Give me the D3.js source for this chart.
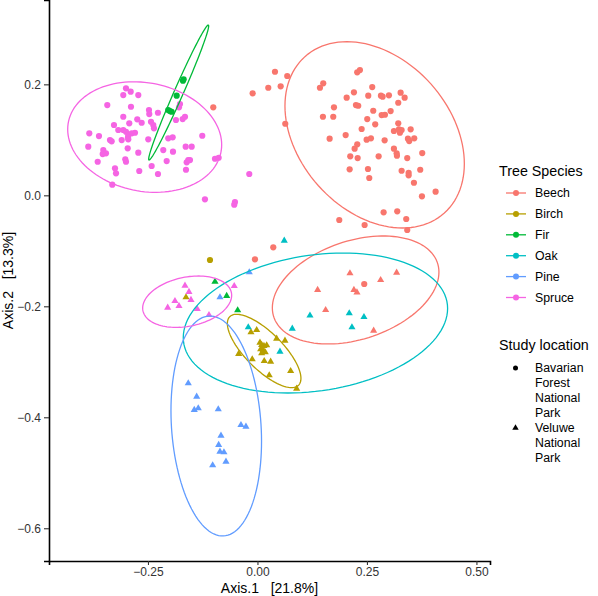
<!DOCTYPE html>
<html>
<head>
<meta charset="utf-8">
<script src="https://cdn.jsdelivr.net/npm/d3@7"></script>
<style>
  html, body { margin: 0; padding: 0; background: #fff; }
  svg { display: block; font-family: "Liberation Sans", Arial, Helvetica, sans-serif; }
</style>
</head>
<body>
<svg id="chart" width="598" height="596"></svg>
<script>
// ---------------- DATA ----------------
const speciesNames  = ["Beech", "Birch", "Fir", "Oak", "Pine", "Spruce"];
const speciesColors = ["#F8766D", "#B79F00", "#00BA38", "#00BFC4", "#619CFF", "#F564E3"];
const locationNames = [["Bavarian", "Forest", "National", "Park"], ["Veluwe", "National", "Park"]];

const xTicks = [-0.25, 0, 0.25, 0.5];
const xTickLabels = ["\u22120.25", "0.00", "0.25", "0.50"];
const yTicks = [-0.6, -0.4, -0.2, 0.0, 0.2];
const yTickLabels = ["\u22120.6", "\u22120.4", "\u22120.2", "0.0", "0.2"];
const xTitle = "Axis.1   [21.8%]";
const yTitle = "Axis.2   [13.3%]";

// Bavarian Forest National Park (circles)
const beechBavarian = [
  [0.0400,0.2227],[0.0680,0.2150],[-0.0110,0.1838],[0.0247,0.1939],[0.0530,0.1964],
  [0.2278,0.2216],[0.2340,0.2258],[0.1427,0.1939],[0.1502,0.2018],[0.2037,0.1759],
  [0.2203,0.1856],[0.2249,0.1627],[0.2301,0.1614],[0.2530,0.1795],[0.2621,0.1951],
  [0.2820,0.1795],[0.2858,0.1777],[0.3002,0.1802],[0.3269,0.1849],[0.3361,0.1759],
  [0.3215,0.1668],[0.1747,0.1586],[0.1731,0.1416],[0.1495,0.1416],[0.2644,0.1524],
  [0.2836,0.1447],[0.2911,0.1452],[0.3041,0.1519],[0.2507,0.1375],[0.2689,0.1279],
  [0.2379,0.1195],[0.3215,0.1297],[0.3116,0.1159],[0.3231,0.1189],[0.3292,0.1177],
  [0.3253,0.1128],[0.3498,0.1189],[0.1648,0.1020],[0.2014,0.1086],[0.2493,0.1002],
  [0.2591,0.1027],[0.2904,0.0991],[0.3436,0.1020],[0.3466,0.0978],[0.3580,0.1027],
  [0.2279,0.0919],[0.2219,0.0840],[0.2119,0.0703],[0.2288,0.0672],[0.2767,0.0703],
  [0.3116,0.0840],[0.3178,0.0757],[0.3185,0.0714],[0.3420,0.0672],[0.3763,0.0762],
  [0.2105,0.0468],[0.2523,0.0474],[0.2553,0.0312],[0.3292,0.0443],[0.3452,0.0407],
  [0.3452,0.0360],[0.3717,0.0461],[0.3573,0.0227],[0.3756,-0.0018],[0.4068,0.0065],
  [0.2881,-0.0306],[0.3192,-0.0288],[0.3397,-0.0427],[0.1868,-0.0445],[0.2447,-0.0535],
  [0.3420,-0.0625],[0.0635,0.1290],[-0.1009,0.1586],[0.0361,-0.0937],[-0.0057,-0.1153],
  [0.2438,-0.1598]
];
const birchBavarian = [[-0.1084,-0.1166]];
const firBavarian = [
  [-0.1685,0.2090],[-0.1701,0.2065],[-0.1845,0.1795],[-0.2037,0.1537],[-0.1959,0.1506],[-0.1998,0.1519]
];
const spruceBavarian = [
  [-0.3002,0.1928],[-0.3064,0.1807],[-0.2895,0.1867],[-0.2721,0.1807],[-0.3429,0.1627],
  [-0.2888,0.1596],[-0.2477,0.1537],[-0.2470,0.1465],[-0.2272,0.1488],[-0.3064,0.1416],
  [-0.2744,0.1369],[-0.2644,0.1308],[-0.2431,0.1326],[-0.2379,0.1267],[-0.2363,0.1207],
  [-0.3276,0.1267],[-0.3178,0.1177],[-0.2927,0.1297],[-0.3064,0.1177],[-0.3002,0.1146],
  [-0.2950,0.1086],[-0.2872,0.1117],[-0.2797,0.1128],[-0.2956,0.1045],[-0.2950,0.1009],
  [-0.3100,0.0996],[-0.3367,0.0996],[-0.3329,0.0973],[-0.3840,0.1117],[-0.3619,0.1068],
  [-0.3863,0.0876],[-0.3520,0.0816],[-0.3459,0.0757],[-0.3534,0.0744],[-0.3648,0.0605],
  [-0.3253,0.0486],[-0.3230,0.0396],[-0.3315,0.0191],[-0.2963,0.0847],[-0.2721,0.0768],
  [-0.3018,0.0649],[-0.3002,0.0605],[-0.2699,0.0438],[-0.2493,0.1009],[-0.2416,0.0528],
  [-0.2272,0.0384],[-0.2151,0.0816],[-0.2073,0.0618],[-0.1929,0.0786],[-0.2037,0.1027],
  [-0.1936,0.1045],[-0.1861,0.1357],[-0.1708,0.1375],[-0.1655,0.1416],[-0.1792,0.1586],
  [-0.1769,0.1645],[-0.1639,0.0876],[-0.1502,0.0876],[-0.1616,0.0595],[-0.1580,0.0636],
  [-0.1541,0.0636],[-0.1632,0.0461],[-0.1260,0.1074],[-0.0970,0.0659],[-0.0886,0.0677],
  [-0.0187,0.0384],[-0.1199,-0.0072],[-0.0514,-0.0121],[-0.0530,-0.0169]
];

// Veluwe National Park (triangles)
const beechVeluwe = [
  [0.2112,-0.1405],[0.3178,-0.1395],[0.2813,-0.1526],[0.1374,-0.1706],[0.2203,-0.1706],
  [0.2272,-0.1748],[0.1557,-0.2067],[0.2653,-0.2440]
];
const birchVeluwe = [
  [-0.1632,-0.1838],[-0.0018,-0.2427],[-0.0148,-0.2468],[0.0438,-0.2584],[0.0628,-0.2620],
  [0.0057,-0.2656],[0.0096,-0.2697],[0.0148,-0.2715],[0.0210,-0.2703],[0.0073,-0.2775],
  [0.0132,-0.2787],[0.0178,-0.2829],[0.0096,-0.2847],[-0.0429,-0.2859],[-0.0119,-0.2955],
  [0.0155,-0.2986],[0.0301,-0.2998],[0.0269,-0.3243],[0.0758,-0.3166],[0.0895,-0.3485]
];
const firVeluwe = [[-0.0970,-0.1557],[-0.0703,-0.1814],[-0.0452,-0.2072]];
const oakVeluwe = [
  [0.0612,-0.0818],[-0.0210,-0.2378],[0.0795,-0.2404],[0.0514,-0.2818],[0.1199,-0.2166],
  [0.2096,-0.2126],[0.2432,-0.2193],[0.2158,-0.2378]
];
const pineVeluwe = [
  [-0.0856,-0.1838],[-0.0187,-0.1387],[-0.1580,-0.3387],[-0.1388,-0.3629],[-0.1443,-0.3868],
  [-0.1352,-0.3838],[-0.0895,-0.3856],[-0.0377,-0.4139],[-0.0263,-0.4169],[-0.0833,-0.4332],
  [-0.0886,-0.4499],[-0.0856,-0.4620],[-0.0765,-0.4631],[-0.0719,-0.4800],[-0.1023,-0.4865]
];
const spruceVeluwe = [
  [-0.1655,-0.1629],[-0.1564,-0.1742],[-0.1884,-0.1905],[-0.1792,-0.1995],[-0.2050,-0.2025],
  [-0.1518,-0.1886],[-0.1374,-0.2049],[-0.0530,-0.1634],[-0.1107,-0.2157]
];

// 95% ellipses: centre, half-extent in x and y, and correlation
const ellipseSpecies = ["Beech", "Beech", "Birch", "Fir", "Oak", "Pine", "Spruce", "Spruce"];
const ellipseCx  = [0.2676, 0.2242, 0.0153, -0.1799, 0.1324, -0.0941, -0.2575, -0.1605];
const ellipseCy  = [0.1090, -0.1706, -0.2805, 0.1852, -0.2301, -0.4157, 0.1050, -0.1917];
const ellipseRx  = [0.2048, 0.1902, 0.0840, 0.0685, 0.3018, 0.1034, 0.1758, 0.1016];
const ellipseRy  = [0.1679, 0.0973, 0.0661, 0.1216, 0.1261, 0.1982, 0.0996, 0.0463];
const ellipseRho = [-0.31, 0.331, -0.747, 0.986, 0.208, -0.139, -0.14, 0.249];

// ---------------- CHART ----------------
const svg = d3.select("#chart");
const panel = { left: 49, right: 490, top: 0, bottom: 561 };

const x = d3.scaleLinear().domain([-0.476, 0.531]).range([panel.left, panel.right]);
const y = d3.scaleLinear().domain([-0.659, 0.352]).range([panel.bottom, panel.top]);
const color = d3.scaleOrdinal().domain(speciesNames).range(speciesColors);

const pointGroups = [
  { sp: "Beech",  loc: 0, pts: beechBavarian },
  { sp: "Birch",  loc: 0, pts: birchBavarian },
  { sp: "Fir",    loc: 0, pts: firBavarian },
  { sp: "Spruce", loc: 0, pts: spruceBavarian },
  { sp: "Beech",  loc: 1, pts: beechVeluwe },
  { sp: "Birch",  loc: 1, pts: birchVeluwe },
  { sp: "Fir",    loc: 1, pts: firVeluwe },
  { sp: "Oak",    loc: 1, pts: oakVeluwe },
  { sp: "Pine",   loc: 1, pts: pineVeluwe },
  { sp: "Spruce", loc: 1, pts: spruceVeluwe }
];

const circleR = 3.1;
const triSym = d3.symbol().type(d3.symbolTriangle).size(22);

const gPts = svg.append("g");
pointGroups.forEach(g => {
  if (g.loc === 0) {
    gPts.selectAll(null).data(g.pts).enter().append("circle")
      .attr("cx", d => x(d[0])).attr("cy", d => y(d[1])).attr("r", circleR)
      .attr("fill", color(g.sp));
  } else {
    gPts.selectAll(null).data(g.pts).enter().append("path")
      .attr("d", triSym)
      .attr("transform", d => `translate(${x(d[0])},${y(d[1])})`)
      .attr("fill", color(g.sp));
  }
});

// ellipses
const tSteps = d3.range(0, 361, 3).map(a => a * Math.PI / 180);
const line = d3.line().x(d => x(d[0])).y(d => y(d[1]));
ellipseSpecies.forEach((sp, i) => {
  const s = Math.sqrt(1 - ellipseRho[i] * ellipseRho[i]);
  const pts = tSteps.map(t => [
    ellipseCx[i] + ellipseRx[i] * Math.cos(t),
    ellipseCy[i] + ellipseRy[i] * (ellipseRho[i] * Math.cos(t) + s * Math.sin(t))
  ]);
  svg.append("path").attr("d", line(pts) + "Z")
    .attr("fill", "none").attr("stroke", color(sp)).attr("stroke-width", 1.3);
});

// axes
const xAxis = d3.axisBottom(x).tickValues(xTicks).tickSize(4).tickPadding(2)
  .tickFormat((d, i) => xTickLabels[i]);
const yAxis = d3.axisLeft(y).tickValues(yTicks).tickSize(5).tickPadding(3)
  .tickFormat((d, i) => yTickLabels[i]);

const gx = svg.append("g").attr("transform", `translate(0,${panel.bottom})`).call(xAxis);
const gy = svg.append("g").attr("transform", `translate(${panel.left},0)`).call(yAxis);
[gx, gy].forEach(g => {
  g.select(".domain").attr("stroke", "#000").attr("stroke-width", 1.6);
  g.selectAll(".tick line").attr("stroke", "#333").attr("stroke-width", 1.1);
  g.selectAll(".tick text").attr("fill", "#333").attr("font-size", 12)
    .attr("font-family", "Liberation Sans, Arial, sans-serif");
});

svg.append("text").attr("x", (panel.left + panel.right) / 2).attr("y", 592.5)
  .attr("text-anchor", "middle").attr("font-size", 14).attr("fill", "#000")
  .style("white-space", "pre").text(xTitle);
svg.append("text")
  .attr("transform", `translate(13,${(panel.top + panel.bottom) / 2}) rotate(-90)`)
  .attr("text-anchor", "middle").attr("font-size", 14).attr("fill", "#000")
  .style("white-space", "pre").text(yTitle);

// legend: species
const lg = svg.append("g");
lg.append("text").attr("x", 499).attr("y", 176).attr("font-size", 14.3).text("Tree Species");
speciesNames.forEach((sp, i) => {
  const cy = 193 + i * 20.9;
  lg.append("line").attr("x1", 506).attr("x2", 526).attr("y1", cy).attr("y2", cy)
    .attr("stroke", color(sp)).attr("stroke-width", 1.3);
  lg.append("circle").attr("cx", 516).attr("cy", cy).attr("r", 3).attr("fill", color(sp));
  lg.append("text").attr("x", 535).attr("y", cy).attr("dy", "0.35em")
    .attr("font-size", 12.3).text(sp);
});

// legend: location
lg.append("text").attr("x", 499).attr("y", 350).attr("font-size", 14.3).text("Study location");
const locStart = [368, 428];
locationNames.forEach((lines, i) => {
  const cy = locStart[i];
  if (i === 0) {
    lg.append("circle").attr("cx", 515.5).attr("cy", cy).attr("r", 2.5).attr("fill", "#000");
  } else {
    lg.append("path").attr("d", d3.symbol().type(d3.symbolTriangle).size(18))
      .attr("transform", `translate(515.5,${cy})`).attr("fill", "#000");
  }
  lines.forEach((t, j) => {
    lg.append("text").attr("x", 535).attr("y", cy + j * 15).attr("dy", "0.35em")
      .attr("font-size", 12.3).text(t);
  });
});
</script>
</body>
</html>
